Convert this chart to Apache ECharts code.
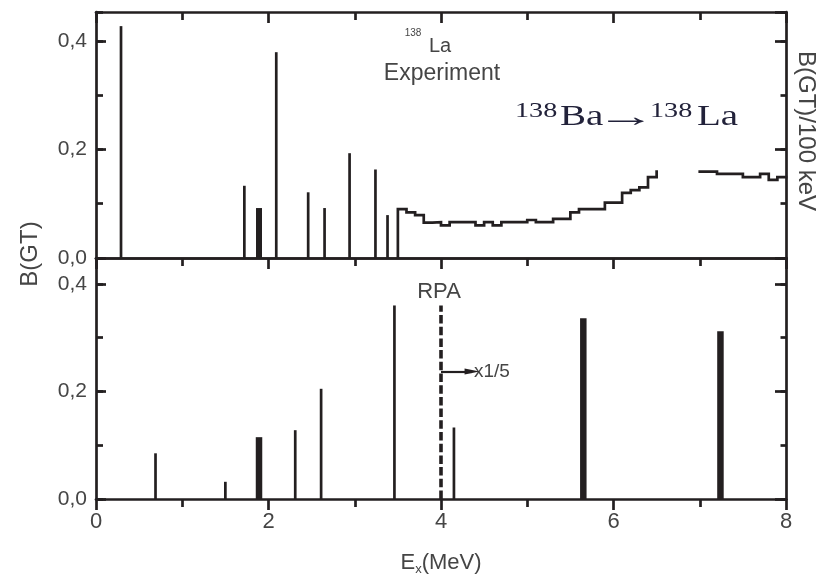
<!DOCTYPE html>
<html>
<head>
<meta charset="utf-8">
<script src="https://cdn.jsdelivr.net/npm/echarts@6/dist/echarts.min.js"></script>
<style>
  html, body { margin: 0; padding: 0; background: #ffffff; }
  #chart { width: 821px; height: 577px; }
</style>
</head>
<body>
<div id="chart"></div>
<script>
// Gamow-Teller strength for 138Ba -> 138La: measured levels (upper panel) and RPA (lower panel)

const xTickLabels = ['0', '2', '4', '6', '8'];
const yTickLabels = ['0,0', '0,2', '0,4'];

// Experiment: discrete levels, [Ex (MeV), B(GT)]
const expLevels = [[0.29, 0.427], [1.72, 0.133], [2.09, 0.379], [2.46, 0.121],
                   [2.65, 0.092], [2.94, 0.193], [3.24, 0.163], [3.38, 0.079]];
const expLevelsWide = [[1.89, 0.092]];

// Experiment: continuum, B(GT) per 100 keV; each value starts at the edge with the same index
const contEdgesA = [3.5, 3.6, 3.7, 3.8, 3.9, 4.0, 4.1, 4.2, 4.3, 4.4, 4.5, 4.6, 4.7, 4.8, 4.9, 5.0,
                    5.1, 5.2, 5.3, 5.4, 5.5, 5.6, 5.7, 5.8, 5.9, 6.0, 6.1, 6.2, 6.3, 6.4, 6.5];
const contValuesA = [0.090, 0.084, 0.079, 0.065, 0.066, 0.060, 0.066, 0.066, 0.066, 0.060, 0.066,
                     0.060, 0.066, 0.066, 0.066, 0.070, 0.066, 0.066, 0.072, 0.072, 0.084, 0.090,
                     0.090, 0.090, 0.102, 0.102, 0.120, 0.125, 0.130, 0.149, 0.159];
const contEdgesB = [7.0, 7.1, 7.2, 7.3, 7.4, 7.5, 7.6, 7.7, 7.8, 7.9, 8.0];
const contValuesB = [0.159, 0.159, 0.155, 0.155, 0.155, 0.149, 0.149, 0.155, 0.144, 0.149, 0.149];

// RPA levels, [Ex (MeV), B(GT)]
const rpaLevels = [[0.69, 0.085], [1.50, 0.032], [2.31, 0.128], [2.61, 0.205],
                   [3.46, 0.360], [4.15, 0.133]];
const rpaLevelsWide = [[1.89, 0.115], [5.65, 0.336], [7.24, 0.312]];

// strengths above this energy are scaled by 1/5
const rpaScaleCut = [[4.0, 0], [4.0, 0.36]];
const rpaScaleArrow = [[4.0, 0.237], [4.36, 0.237]];

const INK = '#231f20';
const TEXT = '#454545';
const TITLE = '#22223a';
const SANS = '"Liberation Sans", Arial, Helvetica, sans-serif';
const SERIF = '"Liberation Serif", "Times New Roman", "DejaVu Serif", serif';
const AXW = 2.7;

const gridTop = { left: 96, right: 35, top: 12, height: 246 };
const gridBottom = { left: 96, right: 35, top: 258, height: 243 };
const yMaxTop = 0.453;
const yMaxBottom = 0.4483;

function xAxisDef(gridIndex, position, opts) {
  return Object.assign({
    type: 'value', gridIndex, position, min: 0, max: 8, interval: 2,
    axisLine: { show: true, onZero: false, lineStyle: { color: INK, width: AXW } },
    axisTick: { show: false },
    minorTick: { show: false },
    axisLabel: { show: false },
    splitLine: { show: false }
  }, opts);
}

const tickStyle = { color: INK, width: AXW };

const xAxes = [
  xAxisDef(0, 'bottom', {}),
  xAxisDef(0, 'top', {
    axisTick: { show: true, inside: true, length: 11, lineStyle: tickStyle },
    minorTick: { show: true, splitNumber: 2, length: 8, lineStyle: tickStyle }
  }),
  xAxisDef(1, 'top', {
    axisTick: { show: true, inside: true, length: 11, lineStyle: tickStyle },
    minorTick: { show: true, splitNumber: 2, length: 8, lineStyle: tickStyle }
  }),
  xAxisDef(1, 'bottom', {
    axisTick: { show: true, inside: false, length: 11, lineStyle: tickStyle },
    minorTick: { show: true, splitNumber: 2, length: 8, lineStyle: tickStyle },
    axisLabel: {
      show: true, margin: 12, color: TEXT, fontFamily: SANS, fontSize: 22,
      formatter: v => xTickLabels[Math.round(v / 2)] ?? ''
    },
    name: '{n|E}{s|x}{n|(MeV)}',
    nameLocation: 'middle',
    nameGap: 50,
    nameTextStyle: {
      rich: {
        n: { color: TEXT, fontFamily: SANS, fontSize: 22 },
        s: { color: TEXT, fontFamily: SANS, fontSize: 13, padding: [14, 0, 0, 0] }
      }
    }
  })
];

function yAxisSet(gridIndex, max, withLabels) {
  const base = {
    type: 'value', gridIndex, min: 0, max,
    splitLine: { show: false },
    axisLabel: { show: false }
  };
  return [
    Object.assign({}, base, {
      position: 'left', interval: 0.2,
      axisLine: { show: true, onZero: false, lineStyle: { color: INK, width: AXW } },
      axisTick: { show: true, inside: true, length: 10, lineStyle: tickStyle },
      axisLabel: withLabels ? {
        show: true, margin: 9, color: TEXT, fontFamily: SANS, fontSize: 21,
        showMaxLabel: false,
        formatter: v => yTickLabels[Math.round(v / 0.2)] ?? ''
      } : { show: false }
    }),
    Object.assign({}, base, {
      position: 'left', interval: 0.1,
      axisLine: { show: false, onZero: false },
      axisTick: { show: true, inside: true, length: 7, lineStyle: tickStyle }
    }),
    Object.assign({}, base, {
      position: 'right', interval: 0.2,
      axisLine: { show: true, onZero: false, lineStyle: { color: INK, width: AXW } },
      axisTick: { show: true, inside: true, length: 11, lineStyle: tickStyle }
    }),
    Object.assign({}, base, {
      position: 'right', interval: 0.1,
      axisLine: { show: false, onZero: false },
      axisTick: { show: true, inside: true, length: 5.5, lineStyle: tickStyle }
    })
  ];
}

const yAxes = [].concat(yAxisSet(0, yMaxTop, true), yAxisSet(1, yMaxBottom, true));

function sticks(data, xAxisIndex, yAxisIndex, width) {
  return {
    type: 'custom', xAxisIndex, yAxisIndex, data,
    encode: { x: 0, y: 1 },
    silent: true, animation: false, z: 3,
    renderItem: (params, api) => {
      const base = api.coord([api.value(0), 0]);
      const top = api.coord([api.value(0), api.value(1)]);
      return {
        type: 'rect',
        shape: { x: base[0] - width / 2, y: top[1], width, height: base[1] - top[1] },
        style: { fill: INK }
      };
    }
  };
}

function histogram(edges, values, startFromZero, xAxisIndex, yAxisIndex) {
  const pts = edges.map((e, i) => [e, values[i]]);
  if (startFromZero) pts.unshift([edges[0], 0]);
  return {
    type: 'line', xAxisIndex, yAxisIndex, data: pts,
    step: 'end', symbol: 'none', silent: true, animation: false, z: 3,
    lineStyle: { color: INK, width: AXW, cap: 'square', join: 'miter' }
  };
}

const series = [
  sticks(expLevels, 0, 0, 2.7),
  sticks(expLevelsWide, 0, 0, 6),
  histogram(contEdgesA, contValuesA, true, 0, 2),
  histogram(contEdgesB, contValuesB, false, 0, 2),
  sticks(rpaLevels, 3, 4, 2.7),
  sticks(rpaLevelsWide, 3, 4, 6.5),
  {
    type: 'line', xAxisIndex: 3, yAxisIndex: 4, data: rpaScaleCut,
    symbol: 'none', silent: true, animation: false, z: 4,
    lineStyle: { color: INK, width: 3.6, type: [8.5, 3.2] },
    markLine: {
      silent: true, animation: false, symbol: ['none', 'triangle'], symbolSize: [6, 15],
      label: { show: false },
      lineStyle: { color: INK, width: 2.2, type: 'solid' },
      data: [[{ coord: rpaScaleArrow[0] }, { coord: rpaScaleArrow[1] }]]
    }
  }
];

function label(text, x, y, size, align, extra) {
  return Object.assign({
    type: 'text', x, y,
    style: { text, fill: TEXT, font: size + 'px ' + SANS, align, verticalAlign: 'middle' }
  }, extra || {});
}

function titlePart(text, x, y, size, scaleX) {
  return {
    type: 'text', x, y, scaleX,
    style: { text, fill: TITLE, font: size + 'px ' + SERIF, align: 'left', verticalAlign: 'middle' }
  };
}

const graphics = [
  label('B(GT)', 30, 254, 24, 'center', { rotation: Math.PI / 2 }),
  label('B(GT)/100 keV', 806, 131, 24, 'center', { rotation: -Math.PI / 2 }),
  label('138', 413, 33, 10, 'center'),
  label('La', 440, 46, 20, 'center'),
  label('Experiment', 442, 74, 23, 'center'),
  label('RPA', 439, 292, 22, 'center'),
  label('x1/5', 474, 372, 19, 'left'),
  // reaction label: 138Ba -> 138La
  titlePart('138', 515, 111, 22, 1.28),
  titlePart('Ba', 560, 117, 30, 1.3),
  titlePart('\u2192', 596, 118, 30, 2.0),
  titlePart('138', 650, 111, 22, 1.28),
  titlePart('La', 697, 117, 30, 1.3)
];

const chart = echarts.init(document.getElementById('chart'), null, { renderer: 'canvas' });
chart.setOption({
  backgroundColor: '#ffffff',
  animation: false,
  grid: [gridTop, gridBottom],
  xAxis: xAxes,
  yAxis: yAxes,
  series,
  graphic: graphics
});
</script>
</body>
</html>
